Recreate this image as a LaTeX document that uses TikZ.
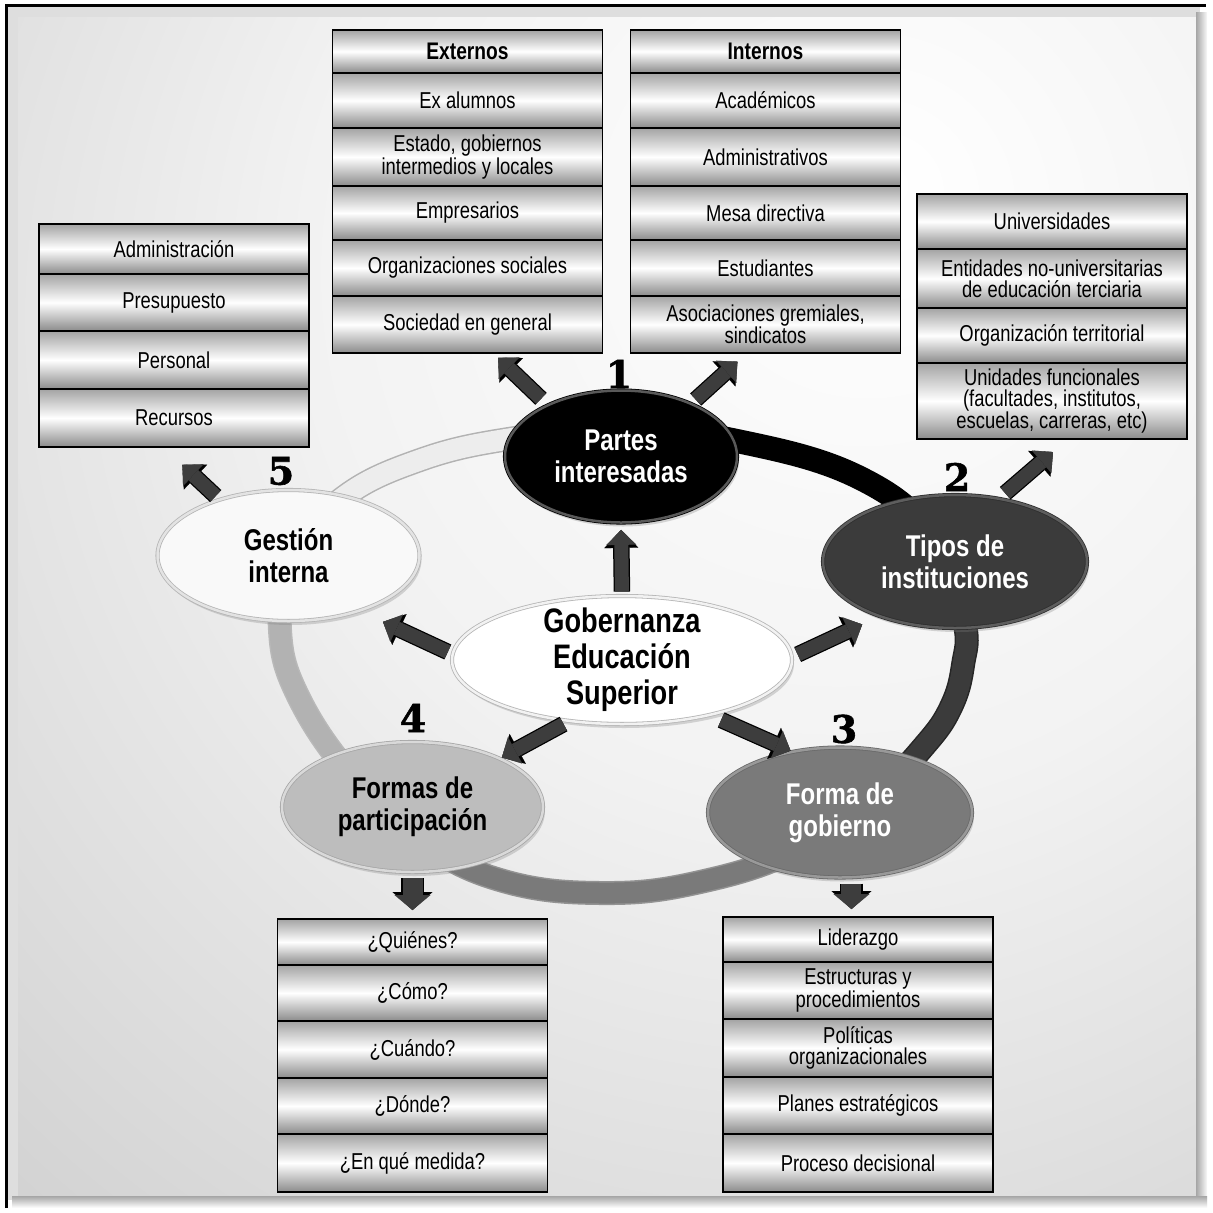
\documentclass[tikz,border=0pt]{standalone}
\usepackage{fontspec}
\setmainfont{Liberation Sans}[FakeStretch=0.8]
\newfontfamily\numfont{DejaVu Serif}[FakeBold=1.5]
\usetikzlibrary{shapes.geometric,positioning,arrows.meta,shadows,calc}

% background tones
\definecolor{bgA}{gray}{1}
\definecolor{bgB}{gray}{0.95}
\definecolor{bgC}{gray}{0.81}
\definecolor{bgD}{gray}{0.71}
\definecolor{bgE}{gray}{0.63}
\definecolor{margingray}{gray}{0.87}
% boxes and arrows
\definecolor{rowgray}{gray}{0.64}
\definecolor{arrgray}{gray}{0.24}
% ring and ellipses
\definecolor{ringdark}{gray}{0.23}
\definecolor{ringmid}{gray}{0.48}
\definecolor{ringlight}{gray}{0.70}
\definecolor{ringpale}{gray}{0.93}
\definecolor{rimA}{gray}{0.35}
\definecolor{rimB}{gray}{0.37}
\definecolor{rimC}{gray}{0.60}
\definecolor{rimD}{gray}{0.85}
\definecolor{rimE}{gray}{0.89}
\definecolor{edgeB}{gray}{0.18}
\definecolor{edgeC}{gray}{0.41}
\definecolor{edgeD}{gray}{0.65}
\definecolor{edgeE}{gray}{0.71}
\definecolor{fillD}{gray}{0.74}
\definecolor{fillE}{gray}{0.975}

\pgfdeclareradialshading{panelshade}{\pgfpoint{12bp}{18bp}}{%
  color(0bp)=(bgA); color(22bp)=(bgB); color(50bp)=(bgC);
  color(70bp)=(bgD); color(100bp)=(bgE)}

\begin{document}
\begin{tikzpicture}[x=1pt,y=-1pt,
  row/.style={draw=black, line width=1.6pt, minimum width=270pt, inner sep=1pt,
    outer sep=0pt, align=center, font=\fontsize{23}{21}\selectfont,
    top color=rowgray, bottom color=rowgray!85!black, middle color=white},
  ell/.style={ellipse, inner sep=0pt, align=center, line width=0.8pt,
    double distance=2.5pt, font=\bfseries\fontsize{30}{32}\selectfont,
    drop shadow={opacity=0.3, shadow xshift=2pt, shadow yshift=-4pt}},
  ringseg/.style 2 args={line width=21pt, draw=#1, preaction={draw=#2, line width=24pt}},
  blockarr/.style={draw=arrgray, line width=14pt,
    -{Triangle[width=30pt,length=15pt,line width=0.1pt]},
    preaction={draw=black, line width=16.5pt, -{Triangle[width=34pt,length=18pt,line width=0.1pt]}}},
  fatarr/.style={draw=arrgray, line width=20pt,
    -{Triangle[width=36pt,length=15pt,line width=0.1pt]},
    preaction={draw=black, line width=22.5pt, -{Triangle[width=40pt,length=18pt,line width=0.1pt]}}},
  numlbl/.style={font=\numfont\bfseries\fontsize{38}{38}\selectfont, inner sep=0pt}
]
\useasboundingbox (0,0) rectangle (1213,1213);

% frame and panel
\fill[white] (0,0) rectangle (1213,1213);
\fill[margingray] (6,5) rectangle (1200,1200);
\shade[shading=panelshade] (18,17) rectangle (1196,1196);
\shade[left color=gray!70, right color=gray!5] (1196,12) rectangle (1207,1206);
\shade[top color=gray!70, bottom color=gray!5] (12,1196) rectangle (1207,1207);
\draw[line width=2.5pt] (6.5,1208) -- (6.5,5.5) -- (1206,5.5);

% centres of the ring ellipses
\coordinate (rc) at (622,660);
\coordinate (cpartes) at (621,456.5);
\coordinate (ctipos) at (955,561.5);
\coordinate (cformagob) at (840,812.5);
\coordinate (cformas) at (412.5,807);
\coordinate (cgestion) at (288.5,555.5);

% ring, one colour per sector
\foreach \pa/\pb/\col/\edge in {cpartes/ctipos/black/black, ctipos/cformagob/ringdark/black!85,
    cformagob/cformas/ringmid/gray!85, cformas/cgestion/ringlight/gray!55,
    cgestion/cpartes/ringpale/ringlight}
{
  \begin{scope}
    \clip (rc) -- ($(rc)!4!(\pa)$) -- ($(rc)!4!(\pb)$) -- cycle;
    \draw[ringseg={\col}{\edge}] plot[smooth cycle, tension=0.7] coordinates
      {(622,428) (737,441) (860,478) (935,540) (964,620) (963,665) (951,707) (925,745)
       (880,790) (800,848) (700,882) (600,893) (500,880) (420,840) (355,780) (300,700)
       (280,630) (292,560) (340,500) (420,460) (515,438)};
  \end{scope}
}

% ellipses
\node[ell, fill=black, draw=black, double=rimA, text=white,
  minimum width=232pt, minimum height=132pt] (partes) at (cpartes) {Partes\\interesadas};
\node[ell, fill=ringdark, draw=edgeB, double=rimB, text=white,
  minimum width=264pt, minimum height=133pt] (tipos) at (ctipos) {Tipos de\\instituciones};
\node[ell, fill=ringmid, draw=edgeC, double=rimC, text=white,
  minimum width=264pt, minimum height=130pt] (formagob) at (cformagob) {Forma de\\gobierno};
\node[ell, fill=fillD, draw=edgeD, double=rimD, text=black,
  minimum width=261pt, minimum height=130pt] (formas) at (cformas) {Formas de\\participación};
\node[ell, fill=fillE, draw=edgeE, double=rimE, text=black,
  minimum width=262pt, minimum height=131pt] (gestion) at (cgestion) {Gestión\\interna};
\node[ell, fill=white, draw=edgeE, double=bgB, text=black, inner ysep=-22pt,
  font=\bfseries\fontsize{34}{36}\selectfont,
  minimum width=340pt, minimum height=128pt] (gob) at (rc) {Gobernanza\\Educación\\Superior};

% boxes
\foreach \ya/\yb/\txt [count=\i] in {30/73/{\textbf{\fontsize{24}{24}\selectfont Externos}},
    73/128/{Ex alumnos}, 128/186/{Estado, gobiernos\\intermedios y locales},
    186/240/{Empresarios}, 240/296/{Organizaciones sociales}, 296/353/{Sociedad en general}}
  \node[row, minimum height={(\yb-\ya)*1pt}] (ext\i) at (467.5,{(\ya+\yb)/2}) {\txt};

\foreach \ya/\yb/\txt [count=\i] in {30/73/{\textbf{\fontsize{24}{24}\selectfont Internos}},
    73/128/{Académicos}, 128/186/{Administrativos},
    186/240/{Mesa directiva}, 240/296/{Estudiantes}, 296/353/{Asociaciones gremiales,\\sindicatos}}
  \node[row, minimum height={(\yb-\ya)*1pt}] (int\i) at (765.5,{(\ya+\yb)/2}) {\txt};

\foreach \ya/\yb/\txt [count=\i] in {194/249/{Universidades},
    249/308/{Entidades no-universitarias\\de educación terciaria},
    308/363/{Organización territorial},
    363/439/{Unidades funcionales\\(facultades, institutos,\\escuelas, carreras, etc)}}
  \node[row, minimum height={(\yb-\ya)*1pt}] (tip\i) at (1052,{(\ya+\yb)/2}) {\txt};

\foreach \ya/\yb/\txt [count=\i] in {224/274/{Administración}, 274/331/{Presupuesto},
    331/389/{Personal}, 389/447/{Recursos}}
  \node[row, minimum height={(\yb-\ya)*1pt}] (ges\i) at (174,{(\ya+\yb)/2}) {\txt};

\foreach \ya/\yb/\txt [count=\i] in {919/965/{¿Quiénes?}, 965/1021/{¿Cómo?},
    1021/1078/{¿Cuándo?}, 1078/1134/{¿Dónde?}, 1134/1192/{¿En qué medida?}}
  \node[row, minimum height={(\yb-\ya)*1pt}] (fq\i) at (412.5,{(\ya+\yb)/2}) {\txt};

\foreach \ya/\yb/\txt [count=\i] in {917/962/{Liderazgo}, 962/1019/{Estructuras y\\procedimientos},
    1019/1077/{Políticas\\organizacionales}, 1077/1134/{Planes estratégicos},
    1134/1192/{Proceso decisional}}
  \node[row, minimum height={(\yb-\ya)*1pt}] (fg\i) at (858,{(\ya+\yb)/2}) {\txt};

% arrows from the centre
\draw[blockarr, shorten <=4pt, shorten >=7pt] (gob.north) -- (partes.south);
\draw[blockarr, shorten <=5pt, shorten >=26pt] (gob.178) -- (gestion.-38.6);
\draw[blockarr, shorten <=6pt, shorten >=19pt] (gob.1) -- (tipos.216);
\draw[blockarr, shorten <=6pt, shorten >=2pt] (gob.229) -- (formas.29.7);
\draw[blockarr, shorten <=12pt, shorten >=2pt] (gob.-32.5) -- (formagob.128.7);

% arrows to the boxes
\draw[blockarr, shorten <=9pt, shorten >=7pt] (partes.145) -- (ext6.-48.2);
\draw[blockarr, shorten <=6pt, shorten >=13pt] (partes.37.4) -- (int6.237);
\draw[blockarr, shorten <=8pt, shorten >=20pt] (tipos.55.4) -- (tip4.-67.2);
\draw[blockarr, shorten <=5pt, shorten >=26pt] (gestion.141.5) -- (ges4.250);
\draw[fatarr, shorten <=6pt, shorten >=9pt] (formas.south) -- (formas.south |- fq1.north);
\draw[fatarr, shorten <=6pt, shorten >=8pt] (formagob.-80) -- (formagob.-80 |- fg1.north);

% numbers
\node[numlbl] (num1) at (619,374) {1};
\node[numlbl] (num2) at (957,477) {2};
\node[numlbl] (num3) at (844,729) {3};
\node[numlbl] (num4) at (413,718) {4};
\node[numlbl] (num5) at (281,471) {5};
\end{tikzpicture}
\end{document}
